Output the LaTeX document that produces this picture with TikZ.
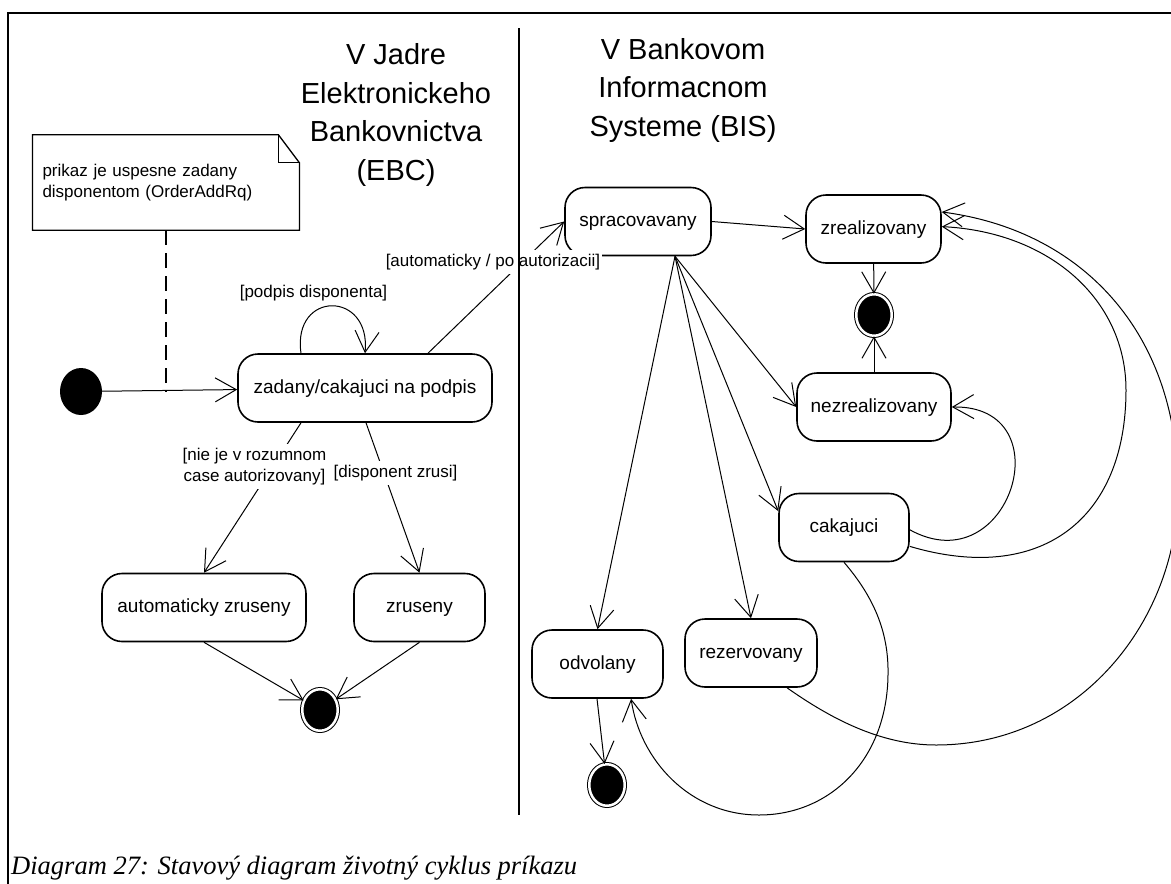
\documentclass[tikz,border=0pt]{standalone}
\usepackage{fontspec}
\setmainfont{Liberation Sans}
\newfontfamily\capfont{Liberation Serif}
\usetikzlibrary{arrows.meta,shapes.geometric}

\begin{document}
\begin{tikzpicture}[x=1pt,y=-1pt,
  state/.style={draw,rectangle,rounded corners=20pt,line width=1.6pt,
    minimum height=68pt,inner sep=0pt,text height=14pt,text depth=4pt,
    font=\fontsize{19}{23}\selectfont},
  startdot/.style={ellipse,fill=black,minimum width=42pt,minimum height=47pt,inner sep=0pt},
  enddot/.style={ellipse,draw,fill=black,double=white,double distance=2.5pt,
    line width=1pt,minimum width=35.5pt,minimum height=41.5pt,inner sep=0pt},
  tr/.style={line width=1pt,-{Straight Barb[length=21pt,width=24pt]}},
  guard/.style={fill=white,inner xsep=2pt,inner ysep=4.5pt,align=center,
    font=\fontsize{17}{21}\selectfont},
  lanetitle/.style={align=center,font=\fontsize{29}{38.5}\selectfont}]
  \useasboundingbox (0,0) rectangle (1171,884);
  % frame
  \draw[line width=2pt] (8,900) -- (8,13) -- (1190,13);
  % titles of the two parts (base = last line)
  \node[lanetitle,anchor=base] (ebc) at (396,180) {V Jadre\\Elektronickeho\\Bankovnictva\\(EBC)};
  \node[lanetitle,anchor=base] (bis) at (683,136) {V Bankovom\\Informacnom\\Systeme (BIS)};
  % note
  \node[minimum height=95pt,text width=247pt,inner xsep=9.75pt,align=left,
    font=\fontsize{17}{21}\selectfont] (note) at (166,182.5)
    {prikaz je uspesne zadany\\disponentom (OrderAddRq)};
  \draw[line width=1.3pt] (note.north west) -- ([xshift=-21pt]note.north east)
    -- ([yshift=-28pt]note.north east) -- (note.south east) -- (note.south west) -- cycle;
  \draw[line width=1.3pt] ([xshift=-21pt]note.north east) |- ([yshift=-28pt]note.north east);
  % states
  \foreach \n/\x/\y/\w/\t in {zad/365/388/254/{zadany/cakajuci na podpis},
      aut/204/607.5/204/{automaticky zruseny}, zru/419.5/607.5/131/{zruseny},
      spr/638/221.5/146/{spracovavany}, zre/873.5/229/135/{zrealizovany},
      nez/874/407/154/{nezrealizovany}, cak/844/527.5/130/{cakajuci},
      odv/597.5/664/131/{odvolany}, rez/751/653/132/{rezervovany}}
    \node[state,minimum width=\w pt] (\n) at (\x,\y) {\t};
  \node[startdot] (init) at (81,391.5) {};
  \node[enddot] (fin1) at (874,315) {};
  \node[enddot] (fin2) at (320,710) {};
  \node[enddot] (fin3) at (607,785) {};
  % transitions
  \draw[tr] (init) -- (zad);
  \draw[line width=1.5pt,dash pattern=on 15pt off 8pt] (note.south) -- (note.south |- init.center);
  \draw[tr] ([xshift=-64pt]zad.north) .. controls +(-9,-63) and +(6,-63) .. (zad.north);
  \draw[tr] ([xshift=63pt]zad.north) -- (spr.west);
  \draw[tr] ([xshift=-64pt]zad.south) -- (aut.north);
  \draw[tr] ([xshift=1pt]zad.south) -- (zru.north);
  \draw[tr] (aut.south) -- (fin2);
  \draw[tr] (zru.south) -- (fin2);
  \draw[tr] (spr.east) -- (zre.west);
  \draw[tr] (zre) -- (fin1);
  \draw[tr] (nez) -- (fin1);
  \coordinate (fan) at ([xshift=37pt]spr.south);
  \foreach \t in {odv.north, rez.north, cak.166, nez.west}
    \draw[tr] (fan) -- (\t);
  \draw[tr] ([xshift=-0.5pt]odv.south) -- (fin3);
  \draw[tr] (cak.-2) .. controls (1010,585) and (1065,405) .. (nez.east);
  \draw[tr] (cak.-16) .. controls (1040,585) and (1126,520) .. (1126,390)
    .. controls (1126,300) and (1050,232) .. (zre.2);
  \draw[tr] (rez.-44) .. controls (830,718) and (880,745) .. (936,745)
    .. controls (1080,745) and (1178,620) .. (1178,490)
    .. controls (1178,330) and (1080,230) .. (zre.14);
  \draw[tr] (cak.south) .. controls (872,595) and (889,630) .. (888,675)
    .. controls (887,760) and (830,815) .. (759,815)
    .. controls (690,815) and (640,760) .. (odv.-46);
  % guards
  \node[guard] (gsig) at (313.5,293) {[podpis disponenta]};
  \node[guard] (gaut) at (493,262) {[automaticky / po autorizacii]};
  \node[guard] (gcas) at (254.5,466.5) {[nie je v rozumnom\\case autorizovany]};
  \node[guard] (gzru) at (395.5,473) {[disponent zrusi]};
  % separator
  \draw[line width=1.8pt] (519,28) -- (519,815);
  % caption
  \node[anchor=base west,inner sep=0pt,font=\capfont\itshape\fontsize{26.5}{30}\selectfont]
    (cap) at (11,874) {Diagram 27: Stavový diagram životný cyklus príkazu};
\end{tikzpicture}
\end{document}
